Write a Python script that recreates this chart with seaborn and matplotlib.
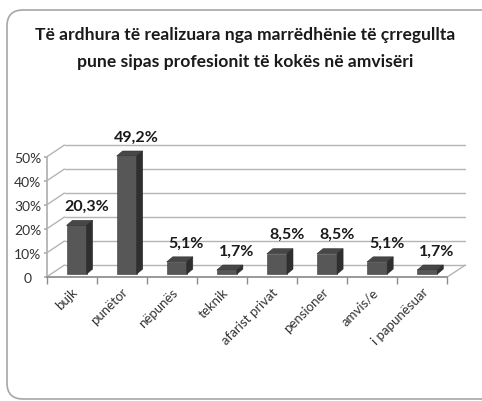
import numpy as np
import seaborn as sns
import matplotlib.pyplot as plt
from matplotlib.patches import Polygon, FancyBboxPatch

# data
categories = ["bujk", "punëtor", "nëpunës", "teknik", "afarist privat",
              "pensioner", "amvis/e", "i papunësuar"]
shares = [20.3, 49.2, 5.1, 1.7, 8.5, 8.5, 5.1, 1.7]
y_ticks = [0, 10, 20, 30, 40, 50]
y_tick_labels = ["0", "10%", "20%", "30%", "40%", "50%"]
title_lines = ["Të ardhura të realizuara nga marrëdhënie të çrregullta",
               "pune sipas profesionit të kokës në amvisëri"]

sns.set_theme(style="white")
plt.rcParams['font.family'] = ['Lato', 'DejaVu Sans']

W, H = 482, 402
fig = plt.figure(figsize=(W / 100, H / 100), dpi=100)
fig.patch.set_facecolor("white")

# rounded frame round the chart (its right edge runs past the picture)
frame = FancyBboxPatch((0.07, 0.02), 5.2, 3.89,
                       boxstyle="round,pad=0,rounding_size=0.16",
                       transform=fig.dpi_scale_trans, facecolor="none",
                       edgecolor="#a6a6a6", linewidth=1.2)
fig.patches.append(frame)

fig.text(0.508, 1 - 35 / H, title_lines[0], ha="center", va="center",
         fontsize=12.6, fontweight="bold", color="#1a1a1a")
fig.text(0.508, 1 - 62 / H, title_lines[1], ha="center", va="center",
         fontsize=12.6, fontweight="bold", color="#1a1a1a")

# plot area geometry (pixels)
cat_px = 50.1
pct_px = 2.4
x_left, y_zero = 46.5, 278
xmin, xmax = -0.5, 7.9
ymin, ymax = 0, 56
ax = fig.add_axes([x_left / W, (H - y_zero) / H,
                   (xmax - xmin) * cat_px / W, (ymax - ymin) * pct_px / H])
ax.set_facecolor("none")

DX, DY = 0.36, 5.0        # wall depth
BX, BY = 0.1, 1.2         # bar face offset from front
bdx, bdy = 0.12, 2.1      # bar depth

grid_c = "#b4b4b4"
n = len(categories)
for v in y_ticks:
    ax.plot([xmin + DX, n - 0.5 + DX], [v + DY, v + DY], color=grid_c, lw=1, zorder=0)
    ax.plot([xmin, xmin + DX], [v, v + DY], color=grid_c, lw=1, zorder=0)
ax.plot([n - 0.5, n - 0.5 + DX], [0, DY], color=grid_c, lw=1, zorder=0)

sns.barplot(x=categories, y=shares, color="#575757", saturation=1, width=0.4,
            edgecolor="#3a3a3a", linewidth=0.4, ax=ax, zorder=2)

for p in ax.patches:
    p.set_x(p.get_x() + BX)
    p.set_y(p.get_y() + BY)
    x0, y0 = p.get_x(), p.get_y()
    x1, h = x0 + p.get_width(), p.get_height()
    top = Polygon([(x0, y0 + h), (x1, y0 + h), (x1 + bdx, y0 + h + bdy),
                   (x0 + bdx, y0 + h + bdy)], closed=True,
                  facecolor="#474747", edgecolor="#2e2e2e", lw=0.4, zorder=2)
    side = Polygon([(x1, y0), (x1 + bdx, y0 + bdy), (x1 + bdx, y0 + h + bdy),
                    (x1, y0 + h)], closed=True,
                   facecolor="#2f2f2f", edgecolor="#2a2a2a", lw=0.4, zorder=2)
    ax.add_patch(top)
    ax.add_patch(side)

for i, v in enumerate(shares):
    ax.annotate(f"{v:.1f}%".replace(".", ","), xy=(i + BX, v + BY),
                xytext=(7, 14), textcoords="offset points", ha="center",
                va="center", fontsize=11.5, fontweight="bold", color="#1a1a1a")

ax.set_xlim(xmin, xmax)
ax.set_ylim(ymin, ymax)
for s in ["top", "right"]:
    ax.spines[s].set_visible(False)
ax.spines["left"].set_bounds(0, 50)
ax.spines["left"].set_color("#b0b0b0")
ax.spines["bottom"].set_bounds(-0.5, n - 0.5)
ax.spines["bottom"].set_color("#8c8c8c")

ax.set_yticks(y_ticks)
ax.set_yticklabels(y_tick_labels, ha="center", fontsize=10, color="#333333")
ax.tick_params(axis="y", length=2, pad=11.5, color="#b0b0b0", left=True)

ax.set_xticks(range(n))
ax.set_xticklabels(categories, rotation=45, ha="right", rotation_mode="anchor",
                   fontsize=9.5, color="#333333")
ax.tick_params(axis="x", length=0, pad=6)
ax.set_xticks(np.arange(-0.5, n), minor=True)
ax.tick_params(axis="x", which="minor", length=5, color="#8c8c8c", bottom=True)
ax.set_xlabel("")
ax.set_ylabel("")

fig.savefig("out.png", dpi=100)
